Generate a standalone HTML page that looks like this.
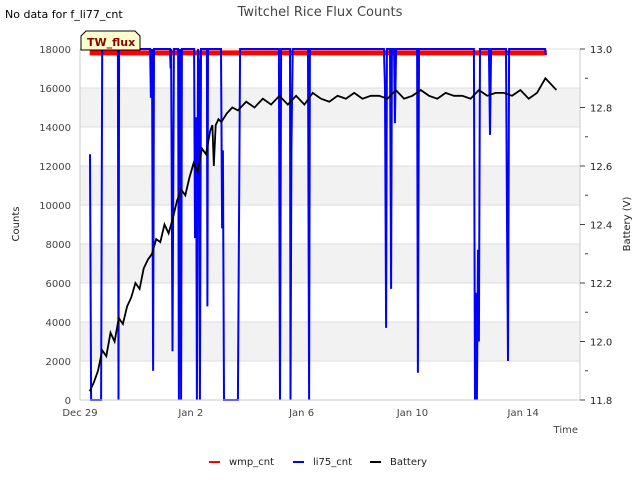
<!DOCTYPE html>
<html><head><meta charset="utf-8"><style>
body{margin:0;background:#fff;font-family:"Liberation Sans","DejaVu Sans",sans-serif;}
svg text{font-family:"DejaVu Sans","Liberation Sans",sans-serif;}
</style></head><body>
<svg id="c" width="640" height="480" xmlns="http://www.w3.org/2000/svg">
<rect width="640" height="480" fill="#fff"/>
<g id="bands"></g><g id="grid"></g>
<g id="series"></g>
<g id="axes"></g>
<text x="320" y="16" text-anchor="middle" font-size="13" fill="#444">Twitchel Rice Flux Counts</text>
<text x="5" y="18" font-size="11" fill="#000">No data for f_li77_cnt</text>
<g>
<path d="M81,50 L81,36 L86,31 L135,31 L140,36 L140,50 Z" fill="#ffffcc" stroke="#000" stroke-width="1"/>
<text x="87" y="46" font-size="11" font-weight="bold" fill="#8b0000">TW_flux</text></g>
<text transform="translate(19,224) rotate(-90)" text-anchor="middle" font-size="10" fill="#222">Counts</text>
<text transform="translate(630,224) rotate(-90)" text-anchor="middle" font-size="10" fill="#222">Battery (V)</text>
<text x="578" y="433" text-anchor="end" font-size="10" fill="#444">Time</text>
<g font-size="10" fill="#222">
<g><line x1="209" y1="462" x2="220" y2="462" stroke="#f00" stroke-width="2"/><text x="229" y="465">wmp_cnt</text></g>
<g><line x1="293" y1="462" x2="304" y2="462" stroke="#00f" stroke-width="2"/><text x="313" y="465">li75_cnt</text></g>
<g><line x1="370" y1="462" x2="381" y2="462" stroke="#000" stroke-width="2"/><text x="390" y="465">Battery</text></g>
</g>
</svg>
<script>
const xTickLabels=["Dec 29","Jan 2","Jan 6","Jan 10","Jan 14"];
const xTickDays=[0,4,8,12,16];
const yTicks=[0,2000,4000,6000,8000,10000,12000,14000,16000,18000];
const y2Ticks=[11.8,12.0,12.2,12.4,12.6,12.8,13.0];
const wmpRange=[0.35,16.85];
const wmpValue=[17800];
const li75Days=[0.36,0.4,0.76,0.8,1.37,1.39,1.41,2.53,2.56,2.6,2.64,2.67,3.25,3.27,3.29,3.34,3.39,3.54,3.57,3.61,3.65,3.68,4.12,4.15,4.19,4.22,4.26,4.3,4.33,4.37,4.58,4.6,4.62,5.09,5.13,5.16,5.2,5.7,5.78,7.18,7.22,7.26,7.58,7.6,7.63,7.68,8.23,8.27,8.3,10.97,11.01,11.05,11.08,11.19,11.23,11.26,11.34,11.37,11.41,12.17,12.2,12.24,14.22,14.26,14.29,14.33,14.37,14.4,14.44,14.76,14.8,14.84,15.38,15.42,15.45,15.49,16.79,16.82];
const li75Vals=[12600,0,0,18000,18000,0,18000,18000,15500,18000,1500,18000,18000,17000,18000,2500,18000,18000,0,18000,0,18000,18000,8300,14500,0,18000,17300,0,18000,18000,4800,18000,18000,8800,12800,0,0,18000,18000,0,18000,18000,0,12800,18000,18000,0,18000,18000,16000,3700,18000,18000,5700,18000,18000,14200,18000,18000,1400,18000,18000,0,5500,0,7700,3000,18000,18000,13600,18000,18000,8500,2000,18000,18000,17700];
const batDays=[0.35,0.5,0.65,0.8,0.95,1.1,1.25,1.4,1.55,1.7,1.85,2.0,2.15,2.3,2.45,2.6,2.75,2.9,3.05,3.2,3.35,3.5,3.65,3.8,3.95,4.1,4.25,4.4,4.55,4.7,4.78,4.83,4.9,5.0,5.1,5.3,5.5,5.7,6.0,6.3,6.6,6.9,7.2,7.5,7.8,8.1,8.4,8.7,9.0,9.3,9.6,9.9,10.2,10.5,10.8,11.1,11.4,11.7,12.0,12.3,12.6,12.9,13.2,13.5,13.8,14.1,14.4,14.7,15.0,15.3,15.6,15.9,16.2,16.5,16.8,17.0,17.2,17.4];
const batVals=[11.83,11.86,11.9,11.97,11.95,12.03,12.0,12.08,12.06,12.12,12.15,12.2,12.18,12.25,12.28,12.3,12.35,12.34,12.4,12.37,12.42,12.48,12.52,12.5,12.56,12.61,12.58,12.66,12.64,12.72,12.74,12.6,12.74,12.76,12.75,12.78,12.8,12.79,12.82,12.8,12.83,12.81,12.84,12.81,12.84,12.81,12.85,12.83,12.82,12.84,12.83,12.85,12.83,12.84,12.84,12.83,12.86,12.83,12.84,12.86,12.84,12.83,12.85,12.84,12.84,12.83,12.86,12.84,12.85,12.85,12.84,12.86,12.83,12.85,12.9,12.88,12.86];
const NS='http://www.w3.org/2000/svg';
const L=80,R=580,T=49,B=400;
const xs=d=>L+d*27.7;
const ys=v=>B-(v/18000)*(B-T);
const ys2=v=>B-((v-11.8)/1.2)*(B-T);
function mk(tag,attrs,parent){const e=document.createElementNS(NS,tag);for(const k in attrs)e.setAttribute(k,attrs[k]);parent.appendChild(e);return e;}
const bands=document.getElementById('bands'),grid=document.getElementById('grid'),axes=document.getElementById('axes'),series=document.getElementById('series');
for(let i=1;i<yTicks.length-1;i+=2){const r=mk('rect',{x:L,y:ys(yTicks[i+1]),width:R-L,height:ys(yTicks[i])-ys(yTicks[i+1]),fill:'#f2f2f2'},bands);

}
yTicks.forEach(v=>{const g=mk('line',{x1:L,x2:R,y1:ys(v),y2:ys(v),stroke:'#ddd','stroke-width':1},grid);


const t=mk('text',{x:L-9,y:ys(v)+4,'text-anchor':'end','font-size':10,fill:'#444'},axes);t.textContent=v;

});
mk('line',{x1:L,x2:L,y1:T,y2:B,stroke:'#ccc'},axes);
mk('line',{x1:R,x2:R,y1:T,y2:B,stroke:'#ccc'},axes);
mk('line',{x1:L,x2:R,y1:B,y2:B,stroke:'#ccc'},axes);
y2Ticks.forEach(v=>{mk('line',{x1:R,x2:R+5,y1:ys2(v),y2:ys2(v),stroke:'#444'},axes);
mk('line',{x1:R+5,x2:R+8,y1:ys2(v+0.1),y2:ys2(v+0.1),stroke:(v<13?'#444':'none')},axes);
const t=mk('text',{x:R+10,y:ys2(v)+4,'font-size':10,fill:'#222'},axes);t.textContent=v.toFixed(1);

});
xTickLabels.forEach((s,i)=>{const t=mk('text',{x:xs(xTickDays[i]),y:416,'text-anchor':'middle','font-size':10,fill:'#444'},axes);t.textContent=s;

});
const w=mk('line',{x1:xs(wmpRange[0]),x2:xs(wmpRange[1]),y1:ys(wmpValue[0]),y2:ys(wmpValue[0]),stroke:'#f00','stroke-width':5},series);


const b=mk('polyline',{points:li75Days.map((d,i)=>xs(d).toFixed(1)+','+ys(li75Vals[i]).toFixed(1)).join(' '),fill:'none',stroke:'#00f','stroke-width':2},series);


const k=mk('polyline',{points:batDays.map((d,i)=>xs(d).toFixed(1)+','+ys2(batVals[i]).toFixed(1)).join(' '),fill:'none',stroke:'#000','stroke-width':1.8},series);


</script>
</body></html>
